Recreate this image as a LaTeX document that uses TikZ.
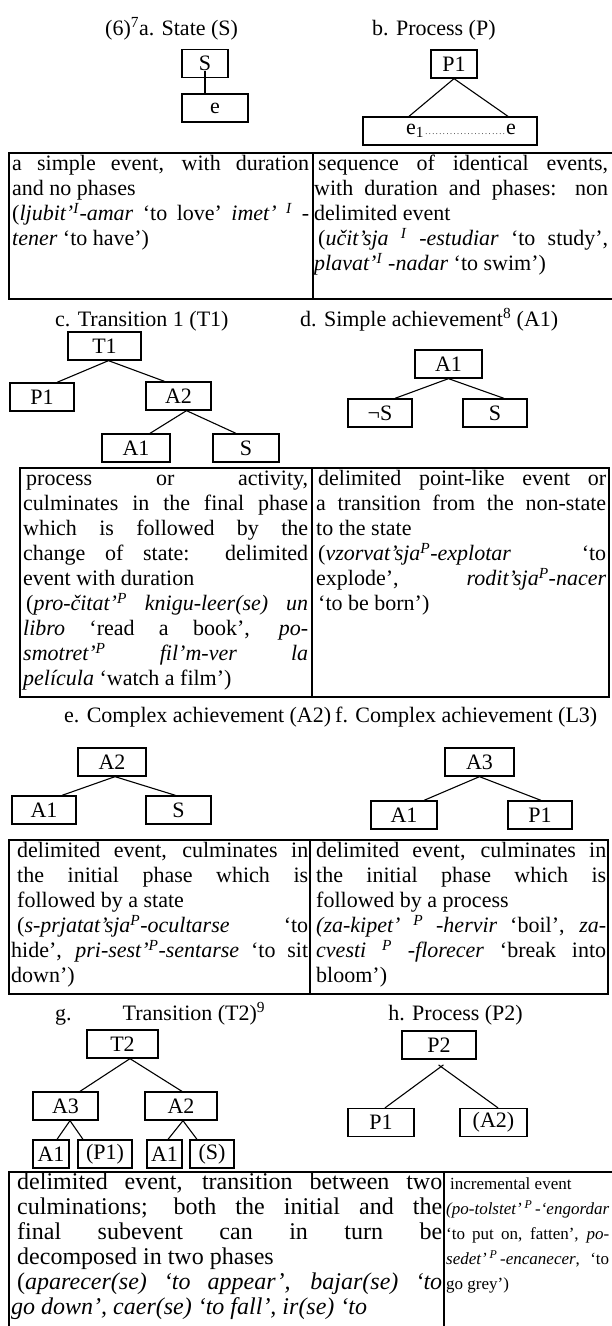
\documentclass[tikz,border=0pt]{standalone}
\usepackage{fontspec}
\setmainfont{Liberation Serif}
\usetikzlibrary{calc}
\newcommand{\aspect}[1]{\textsuperscript{\textit{#1}}}
\setlength{\parindent}{0pt}
\tolerance=9999
\hbadness=10000
\hfuzz=30pt
\hyphenpenalty=10000
\exhyphenpenalty=10000

\begin{document}
\begin{tikzpicture}
  [x=1pt,y=-1pt,every node/.style={font=\fontsize{22}{25}\selectfont}]
  \tikzstyle{ebox} = [draw,line width=1.3pt,minimum height=28pt,inner sep=0pt]
  \tikzstyle{link} = [line width=1.1pt]
  \tikzstyle{rule} = [line width=1.7pt]
  \tikzstyle{title} = [anchor=base west,inner sep=0pt]
  \tikzstyle{cell} = [anchor=north west,inner sep=0pt,align=justify]
  \useasboundingbox (0,0) rectangle (612,1326);

  \node[title] (ta) at (105,35) {(6)\textsuperscript{7}a. State (S)};
  \node[title] (tb) at (372,35) {b. Process (P)};
  \node[ebox,minimum width=46pt] (aS) at (205,63.5) {S};
  \node[ebox,minimum width=66pt] (ae) at (215,108) {e};
  \draw[link] (aS.base) -- (aS.base |- ae.north);
  \node[ebox,minimum width=46pt] (bP1) at (454,64) {P1};
  \node[ebox,minimum width=174pt] (bseq) at (450,131)
    {\hspace{22pt}e\textsubscript{1}\makebox[82pt]{\fontsize{8}{8}\selectfont\dotfill}e};
  \foreach \dx in {-41,58}
    \draw[link] (bP1.south) -- ([xshift=\dx pt]bseq.north);

  \draw[rule] (612,153) -- (9,153) -- (9,299) -- (612,299);
  \draw[rule] (313,153) -- (313,299);
  \node[cell,text width=297pt] (ca) at (12,153)
    {\strut a simple event, with duration\linebreak
     and no phases\newline
     (\textit{ljubit’}\aspect{I}\textit{-amar} ‘to love’ \textit{imet’} \aspect{I} -\linebreak
     \textit{tener} ‘to have’)};
  \node[cell,text width=294pt] (cb) at (314,153)
    {\strut\hspace*{4pt}sequence of identical events,\linebreak
     with duration and phases: non\linebreak
     delimited event\newline
     \hspace*{4pt}(\textit{učit’sja} \aspect{I} \textit{-estudiar} ‘to study’,\linebreak
     \textit{plavat’}\aspect{I} \textit{-nadar} ‘to swim’)};

  \node[title] (tc) at (55,326) {c. Transition 1 (T1)};
  \node[title] (td) at (300,326) {d. Simple achievement\textsuperscript{8} (A1)};
  \node[ebox,minimum width=73pt] (cT1) at (104.5,346) {T1};
  \node[ebox,minimum width=64pt] (cP1) at (42,397) {P1};
  \node[ebox,minimum width=65pt] (cA2) at (178.5,396) {A2};
  \node[ebox,minimum width=68pt] (cA1) at (136,448) {A1};
  \node[ebox,minimum width=66pt] (cS) at (246,448) {S};
  \foreach \from/\fx/\to/\tx in {cT1/4/cP1/15,cT1/4/cA2/-14,cA2/8/cA1/14,cA2/8/cS/-10}
    \draw[link] ([xshift=\fx pt]\from.south) -- ([xshift=\tx pt]\to.north);
  \node[ebox,minimum width=67pt] (dA1) at (448.5,364) {A1};
  \node[ebox,minimum width=64pt] (dnS) at (380,413) {¬S};
  \node[ebox,minimum width=64pt] (dS) at (495,413) {S};
  \foreach \to/\tx in {dnS/15,dS/9}
    \draw[link] (dA1.south) -- ([xshift=\tx pt]\to.north);

  \draw[rule] (20,468) rectangle (609,697);
  \draw[rule] (312,468) -- (312,697);
  \node[cell,text width=285pt] (cc) at (23,468)
    {\strut\hspace*{3pt}process or activity,\linebreak
     culminates in the final phase\linebreak
     which is followed by the\linebreak
     change of state: delimited\linebreak
     event with duration\newline
     \hspace*{3pt}(\textit{pro-čitat’}\aspect{P} \textit{knigu-leer(se) un}\linebreak
     \textit{libro} ‘read a book’, \textit{po-}\linebreak
     \textit{smotret’}\aspect{P} \textit{fil’m-ver la}\linebreak
     \textit{película} ‘watch a film’)};
  \node[cell,text width=290pt] (cd) at (316,468)
    {\strut\hspace*{2pt}delimited point-like event or\linebreak
     a transition from the non-state\linebreak
     to the state\newline
     \hspace*{2pt}(\textit{vzorvat’sja}\aspect{P}\textit{-explotar} ‘to\linebreak
     explode’, \textit{rodit’sja}\aspect{P}\textit{-nacer}\linebreak
     \hspace*{2pt}‘to be born’)};

  \node[title] (te) at (64,722) {e. Complex achievement (A2)};
  \node[title] (tf) at (335,722) {f. Complex achievement (L3)};
  \node[ebox,minimum width=68pt] (eA2) at (112,762) {A2};
  \node[ebox,minimum width=64pt] (eA1) at (44,810) {A1};
  \node[ebox,minimum width=65pt] (eS) at (178.5,810) {S};
  \foreach \to/\tx in {eA1/18,eS/-3}
    \draw[link] ([xshift=3pt]eA2.south) -- ([xshift=\tx pt]\to.north);
  \node[ebox,minimum width=69pt] (fA3) at (479.5,762) {A3};
  \node[ebox,minimum width=66pt] (fA1) at (404,815) {A1};
  \node[ebox,minimum width=64pt] (fP1) at (540,815) {P1};
  \foreach \to/\tx in {fA1/20,fP1/1}
    \draw[link] (fA3.south) -- ([xshift=\tx pt]\to.north);

  \draw[rule] (9,840) rectangle (608,994);
  \draw[rule] (310,840) -- (310,994);
  \node[cell,text width=297pt] (ce) at (11,840)
    {\strut\hspace*{6pt}delimited event, culminates in\linebreak
     \hspace*{6pt}the initial phase which is\linebreak
     \hspace*{6pt}followed by a state\newline
     \hspace*{6pt}(\textit{s-prjatat’sja}\aspect{P}\textit{-ocultarse} ‘to\linebreak
     hide’, \textit{pri-sest’}\aspect{P}\textit{-sentarse} ‘to sit\linebreak
     down’)};
  \node[cell,text width=293pt] (cf) at (313,840)
    {\strut\hspace*{3pt}delimited event, culminates in\linebreak
     \hspace*{3pt}the initial phase which is\linebreak
     \hspace*{3pt}followed by a process\newline
     \hspace*{3pt}\textit{(za-kipet’ \aspect{P} -hervir} ‘boil’, \textit{za-}\linebreak
     \hspace*{3pt}\textit{cvesti \aspect{P} -florecer} ‘break into\linebreak
     \hspace*{3pt}bloom’)};

  \node[title] (tg) at (55,1020) {g.\hspace{51pt}Transition (T2)\textsuperscript{9}};
  \node[title,anchor=base east] (th) at (523,1020) {h. Process (P2)};
  \node[ebox,minimum width=71pt] (gT2) at (122.5,1044) {T2};
  \node[ebox,minimum width=65pt] (gA3) at (65.5,1106) {A3};
  \node[ebox,minimum width=72pt] (gA2) at (181,1106) {A2};
  \node[ebox,minimum width=36pt] (gA1a) at (51,1154) {A1};
  \node[ebox,minimum width=54pt] (gP1) at (105,1154) {(P1)};
  \node[ebox,minimum width=35pt] (gA1b) at (164.5,1154) {A1};
  \node[ebox,minimum width=44pt] (gS) at (212,1154) {(S)};
  \foreach \from/\fx/\to/\tx in {gT2/7.5/gA3/14.5,gT2/7.5/gA2/1,gA3/4.5/gA1a/6,gA3/4.5/gP1/-22,gA2/2/gA1b/3.5,gA2/2/gS/-15}
    \draw[link] ([xshift=\fx pt]\from.south) -- ([xshift=\tx pt]\to.north);
  \node[ebox,minimum width=74pt] (hP2) at (439,1045) {P2};
  \node[ebox,minimum width=66pt] (hP1) at (381,1122.5) {P1};
  \node[ebox,minimum width=67pt] (hA2) at (493.5,1122.5) {(A2)};
  \coordinate (hj) at ([yshift=-7pt,xshift=2pt]hP2.south);
  \foreach \to/\tx in {hP1/4,hA2/4.5}
    \draw[link] ($(hj)!-3pt!([xshift=\tx pt]\to.north)$) -- ([xshift=\tx pt]\to.north);

  \draw[rule] (9,1326) -- (9,1172) -- (612,1172);
  \draw[rule] (444,1172) -- (444,1326);
  \node[cell,text width=431pt,font=\fontsize{24}{25}\selectfont] (cg) at (11,1172)
    {\parfillskip=0pt\strut\hspace*{6pt}delimited event, transition between two\linebreak
     \hspace*{6pt}culminations; both the initial and the\linebreak
     \hspace*{6pt}final subevent can in turn be\linebreak
     \hspace*{6pt}decomposed in two phases\newline
     \hspace*{6pt}(\textit{aparecer(se) ‘to appear’, bajar(se) ‘to}\linebreak
     \textit{go down’, caer(se) ‘to fall’, ir(se) ‘to}};
  \node[cell,text width=163pt,font=\fontsize{17}{25}\selectfont] (ch) at (446,1172)
    {\strut\hspace*{4pt}incremental event\newline
     \textit{(po-tolstet’}\,\aspect{P}\,-\textit{‘engordar}\linebreak
     ‘to put on, fatten’, \textit{po-}\linebreak
     \textit{sedet’}\,\aspect{P}\,\textit{-encanecer}, ‘to\linebreak
     go grey’)};
\end{tikzpicture}
\end{document}
